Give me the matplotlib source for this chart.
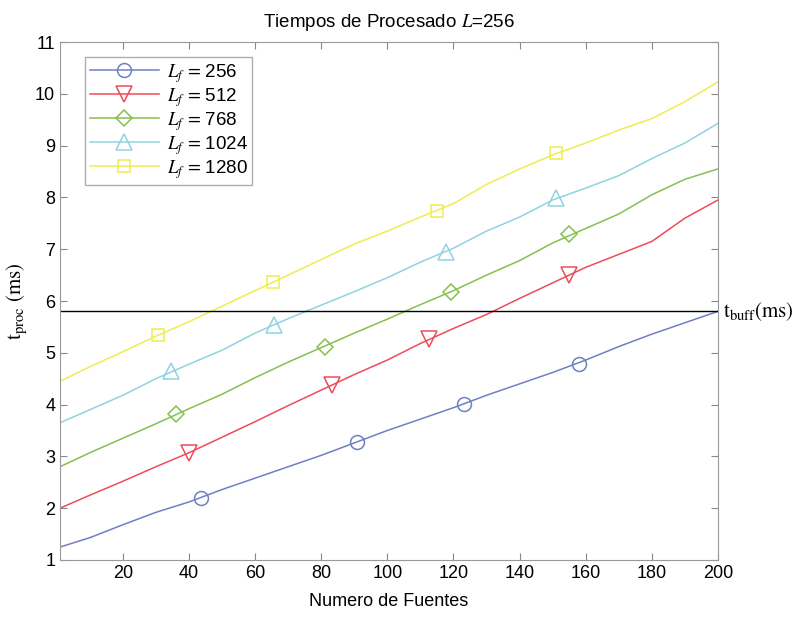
import numpy as np
import matplotlib.pyplot as plt
from matplotlib.lines import Line2D

plt.rcParams['font.family'] = ['Liberation Sans', 'DejaVu Sans']
plt.rcParams['mathtext.fontset'] = 'stix'

T_BUFF = 5.8

n_fuentes = [1, 10, 20, 30, 40, 50, 60, 70, 80, 90, 100,
             110, 120, 130, 140, 150, 160, 170, 180, 190, 200]

t_256 = [1.25, 1.43, 1.68, 1.92, 2.12, 2.36, 2.58, 2.80, 3.02, 3.26, 3.50,
         3.72, 3.94, 4.18, 4.40, 4.62, 4.86, 5.12, 5.36, 5.58, 5.80]
t_512 = [2.00, 2.25, 2.52, 2.80, 3.07, 3.37, 3.67, 3.98, 4.28, 4.58, 4.86,
         5.18, 5.47, 5.74, 6.05, 6.35, 6.65, 6.90, 7.15, 7.60, 7.95]
t_768 = [2.80, 3.07, 3.35, 3.63, 3.92, 4.20, 4.52, 4.82, 5.10, 5.38, 5.65,
         5.93, 6.20, 6.50, 6.78, 7.12, 7.40, 7.68, 8.05, 8.35, 8.55]
t_1024 = [3.65, 3.90, 4.18, 4.50, 4.78, 5.05, 5.38, 5.66, 5.92, 6.18, 6.45,
          6.75, 7.02, 7.35, 7.62, 7.95, 8.18, 8.42, 8.75, 9.05, 9.43]
t_1280 = [4.45, 4.73, 5.02, 5.32, 5.60, 5.90, 6.20, 6.50, 6.80, 7.10, 7.35,
          7.62, 7.88, 8.25, 8.55, 8.82, 9.05, 9.30, 9.52, 9.85, 10.23]

# marker positions (x, y) for each curve
mk_x_256, mk_y_256 = [43.5, 90.7, 123.3, 158], [2.20, 3.28, 4.01, 4.78]
mk_x_512, mk_y_512 = [40, 83.4, 112.6, 155], [3.07, 4.38, 5.26, 6.50]
mk_x_768, mk_y_768 = [36, 81.2, 119.3, 155], [3.81, 5.12, 6.18, 7.29]
mk_x_1024, mk_y_1024 = [34.5, 65.7, 117.6, 151], [4.64, 5.54, 6.95, 7.99]
mk_x_1280, mk_y_1280 = [30.5, 65.5, 115, 151], [5.34, 6.37, 7.74, 8.85]

series = [
    ('256', t_256, mk_x_256, mk_y_256, '#6f80c0', 'o'),
    ('512', t_512, mk_x_512, mk_y_512, '#ef4b5a', 'v'),
    ('768', t_768, mk_x_768, mk_y_768, '#86c04e', 'D'),
    ('1024', t_1024, mk_x_1024, mk_y_1024, '#8fd3e2', '^'),
    ('1280', t_1280, mk_x_1280, mk_y_1280, '#f0ec50', 's'),
]
msizes = {'o': 10, 'v': 11, 'D': 8, '^': 11, 's': 8}

fig = plt.figure(figsize=(7.98, 6.17), dpi=100)
ax = fig.add_axes([0.0752, 0.0924, 0.8245, 0.8395])

handles = []
for lf, t, mx, my, c, m in series:
    ax.plot(n_fuentes, t, color=c, lw=1.1)
    ax.plot(mx, my, ls='none', marker=m, ms=msizes[m], mfc='none',
            mec=c, mew=1.1)
    handles.append(Line2D([], [], color=c, lw=1.1, marker=m, ms=msizes[m],
                          mfc='none', mec=c, mew=1.1,
                          label=r'$L_f\,=\,$' + lf))

ax.axhline(T_BUFF, color='black', lw=1)
ax.text(1.008, T_BUFF, r'$\mathrm{t_{buff}(ms)}$', transform=ax.get_yaxis_transform(),
        fontsize=15, va='center', ha='left')

ax.set_xlim(1, 200)
ax.set_ylim(1, 11)
ax.set_xticks(np.arange(20, 201, 20))
ax.set_yticks(np.arange(1, 12, 1))
ax.tick_params(direction='in', top=True, right=True, labelsize=13,
               color='#888888', length=5)
for sp in ax.spines.values():
    sp.set_color('#999999')

ax.set_title(r'Tiempos de Procesado $L$=256', fontsize=13.5, pad=11)
ax.set_xlabel('Numero de Fuentes', fontsize=13, labelpad=8)
ax.set_ylabel(r'$\mathrm{t_{proc}\ (ms)}$', fontsize=15, labelpad=4)

leg = ax.legend(handles=handles, loc='upper left', bbox_to_anchor=(0.038, 0.971),
                fontsize=13.5, handlelength=3.7, numpoints=1, fancybox=False,
                borderaxespad=0, labelspacing=0.06, handletextpad=0.4,
                borderpad=0.25)
leg.get_frame().set_edgecolor('#999999')
leg.get_frame().set_linewidth(1)

fig.savefig('out.png', dpi=100)
